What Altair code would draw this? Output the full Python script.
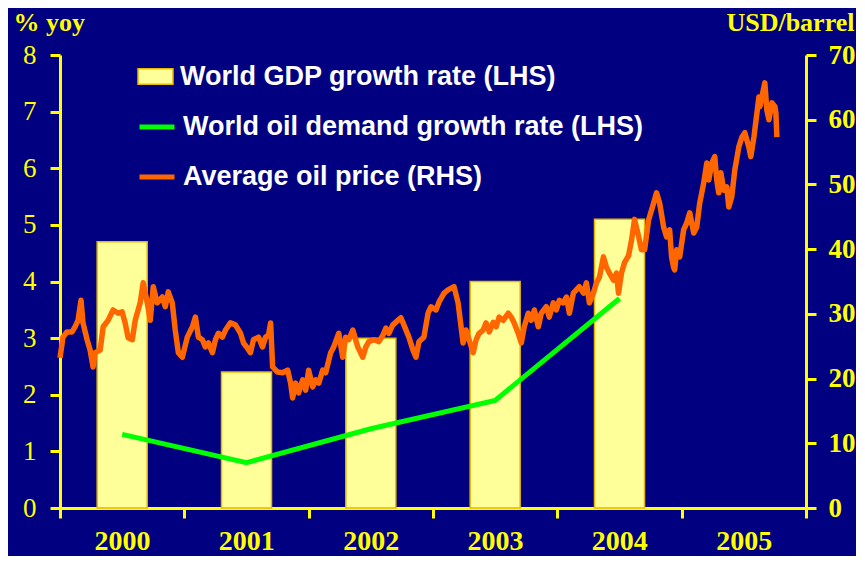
import altair as alt
import pandas as pd

# ---------------- data ----------------
years = [2000, 2001, 2002, 2003, 2004]
gdp_growth = [4.7, 2.4, 3.0, 4.0, 5.1]
oil_demand_growth = [1.3, 0.8, 1.4, 1.9, 3.7]

year_ticks = [2000, 2001, 2002, 2003, 2004, 2005, 2006]
left_ticks = [0, 1, 2, 3, 4, 5, 6, 7, 8]
right_ticks = [0, 10, 20, 30, 40, 50, 60, 70]

# oil price: time as decimal years, price in USD/barrel
oil_t = [
    2000.000, 2000.024, 2000.056, 2000.097, 2000.121, 2000.145, 2000.169, 2000.185,
    2000.218, 2000.242, 2000.266, 2000.282, 2000.323, 2000.347, 2000.387, 2000.427,
    2000.468, 2000.500, 2000.524, 2000.548, 2000.581, 2000.605, 2000.645, 2000.669,
    2000.702, 2000.726, 2000.750, 2000.782, 2000.823, 2000.847, 2000.871, 2000.903,
    2000.927, 2000.952, 2000.984, 2001.024, 2001.065, 2001.089, 2001.113, 2001.145,
    2001.169, 2001.194, 2001.226, 2001.250, 2001.274, 2001.306, 2001.331, 2001.371,
    2001.411, 2001.452, 2001.476, 2001.508, 2001.532, 2001.556, 2001.597, 2001.629,
    2001.653, 2001.677, 2001.694, 2001.710, 2001.750, 2001.790, 2001.831, 2001.855,
    2001.871, 2001.895, 2001.919, 2001.952, 2001.976, 2002.000, 2002.032, 2002.056,
    2002.081, 2002.113, 2002.137, 2002.177, 2002.202, 2002.242, 2002.274, 2002.298,
    2002.323, 2002.355, 2002.395, 2002.435, 2002.460, 2002.484, 2002.524, 2002.565,
    2002.597, 2002.621, 2002.645, 2002.677, 2002.718, 2002.742, 2002.766, 2002.806,
    2002.839, 2002.863, 2002.887, 2002.927, 2002.960, 2002.984, 2003.024, 2003.048,
    2003.089, 2003.121, 2003.169, 2003.202, 2003.226, 2003.242, 2003.266, 2003.290,
    2003.323, 2003.347, 2003.371, 2003.403, 2003.427, 2003.452, 2003.484, 2003.508,
    2003.532, 2003.565, 2003.605, 2003.629, 2003.653, 2003.685, 2003.710, 2003.734,
    2003.766, 2003.790, 2003.815, 2003.847, 2003.871, 2003.911, 2003.935, 2003.968,
    2003.992, 2004.016, 2004.048, 2004.073, 2004.097, 2004.129, 2004.153, 2004.177,
    2004.210, 2004.234, 2004.258, 2004.290, 2004.315, 2004.339, 2004.371, 2004.395,
    2004.419, 2004.452, 2004.476, 2004.492, 2004.516, 2004.540, 2004.573, 2004.597,
    2004.621, 2004.653, 2004.677, 2004.702, 2004.734, 2004.774, 2004.798, 2004.823,
    2004.855, 2004.879, 2004.903, 2004.919, 2004.935, 2004.944, 2004.960, 2004.984,
    2005.016, 2005.040, 2005.065, 2005.097, 2005.121, 2005.145, 2005.177, 2005.202,
    2005.218, 2005.242, 2005.266, 2005.282, 2005.298, 2005.315, 2005.339, 2005.363,
    2005.379, 2005.403, 2005.427, 2005.460, 2005.484, 2005.508, 2005.540, 2005.556,
    2005.581, 2005.605, 2005.621, 2005.629, 2005.645, 2005.669, 2005.685, 2005.702,
    2005.726, 2005.750, 2005.758, 2005.766,
]
oil_price = [
    23.2, 26.4, 27.2, 27.2, 28.0, 29.0, 32.1, 28.6,
    26.0, 24.4, 21.8, 24.0, 24.4, 28.0, 29.0, 30.6,
    30.1, 30.3, 28.6, 26.3, 26.0, 29.0, 31.7, 34.8,
    31.7, 29.0, 34.2, 31.7, 32.6, 31.1, 33.4, 31.7,
    27.5, 24.0, 23.3, 26.4, 28.0, 29.5, 26.4, 26.0,
    24.9, 25.5, 24.0, 26.0, 27.0, 26.4, 27.5, 28.6,
    28.3, 27.0, 25.5, 24.7, 24.0, 26.0, 26.4, 24.9,
    26.4, 26.7, 28.6, 21.8, 21.0, 20.9, 21.3, 19.3,
    17.0, 19.3, 17.8, 19.8, 18.2, 21.3, 18.7, 19.8,
    19.3, 21.3, 20.9, 24.0, 24.9, 27.0, 23.3, 26.4,
    26.0, 27.5, 24.9, 23.3, 24.9, 25.7, 26.0, 25.7,
    26.7, 27.8, 27.0, 28.3, 29.0, 29.4, 28.3, 26.4,
    24.4, 23.3, 25.7, 26.4, 30.1, 31.1, 30.6, 31.8,
    33.2, 33.7, 34.2, 31.7, 28.0, 25.5, 27.5, 26.0,
    24.0, 26.0, 27.0, 27.5, 28.6, 27.2, 28.7, 28.0,
    29.5, 29.0, 30.1, 29.5, 28.6, 27.0, 25.5, 28.0,
    30.1, 29.0, 30.6, 28.0, 30.1, 31.1, 29.5, 31.7,
    30.6, 32.1, 31.7, 32.6, 30.1, 33.2, 33.7, 34.2,
    33.2, 34.8, 31.7, 33.2, 34.8, 35.7, 38.8, 37.2,
    36.3, 35.2, 36.3, 33.2, 36.3, 37.9, 39.0, 41.4,
    44.6, 42.0, 39.9, 39.9, 44.5, 47.1, 48.7, 47.1,
    43.4, 41.9, 43.0, 38.8, 37.2, 36.8, 39.9, 38.8,
    43.0, 44.0, 45.6, 42.5, 43.4, 47.1, 50.2, 53.3,
    50.7, 53.3, 54.3, 50.7, 48.7, 51.8, 49.1, 49.6,
    46.5, 48.1, 52.2, 55.8, 57.3, 58.0, 55.8, 54.3,
    57.3, 61.0, 63.5, 62.0, 63.5, 65.7, 61.5, 60.0,
    62.6, 62.0, 61.0, 57.3,
]

S_GDP = "World GDP growth rate (LHS)"
S_DEM = "World oil demand growth rate (LHS)"
S_OIL = "Average oil price (RHS)"

# ---------------- styling ----------------
NAVY = "#000080"
YELLOW = "#FFFF00"
BAR_FILL = "#FFFF99"
BAR_EDGE = "#E6B800"
GREEN = "#00FF00"
ORANGE = "#FF6600"
SERIF = "Liberation Serif"
SANS = "Liberation Sans"

bars_df = pd.DataFrame({
    "year": years,
    "gdp": gdp_growth,
    "demand": oil_demand_growth,
    "s_gdp": [S_GDP] * len(years),
    "s_dem": [S_DEM] * len(years),
})
oil_df = pd.DataFrame({"t": oil_t, "price": oil_price, "s": [S_OIL] * len(oil_t)})

xscale = alt.Scale(domain=[2000, 2006], nice=False, zero=False, padding=0)
yleft_scale = alt.Scale(domain=[0, 8], nice=False, padding=0)
yright_scale = alt.Scale(domain=[0, 70], nice=False, padding=0)

x_axis = alt.Axis(
    values=year_ticks,
    labelExpr="datum.value < 2006 ? format(datum.value, 'd') : ''",
    labelOffset=62, labelFlush=False, labelOverlap=False, labelBound=False,
    tickSize=10, tickWidth=3, tickColor=YELLOW,
    domainColor=YELLOW, domainWidth=3,
    labelColor=YELLOW, labelFont=SERIF, labelFontSize=28, labelFontWeight="bold",
    labelPadding=9, grid=False, title=None,
)

y_left = alt.Axis(
    values=left_ticks, orient="left",
    labelFlush=False, labelOverlap=False, labelBound=False,
    tickSize=10, tickWidth=3, tickColor=YELLOW,
    domainColor=YELLOW, domainWidth=3,
    labelColor=YELLOW, labelFont=SERIF, labelFontSize=27, labelPadding=14,
    grid=False,
    title="% yoy", titleAngle=0, titleX=-47, titleY=-25,
    titleAlign="left", titleBaseline="alphabetic",
    titleColor=YELLOW, titleFont=SERIF, titleFontSize=26, titleFontWeight="bold",
)

y_right = alt.Axis(
    values=right_ticks, orient="right",
    labelFlush=False, labelOverlap=False, labelBound=False,
    tickSize=10, tickWidth=3, tickColor=YELLOW,
    domainColor=YELLOW, domainWidth=3,
    labelColor=YELLOW, labelFont=SERIF, labelFontSize=27, labelFontWeight="bold",
    labelPadding=12, grid=False,
    title="USD/barrel", titleAngle=0, titleX=48, titleY=-25,
    titleAlign="right", titleBaseline="alphabetic",
    titleColor=YELLOW, titleFont=SERIF, titleFontSize=26, titleFontWeight="bold",
)


def legend(ypos, stype, **kw):
    return alt.Legend(
        orient="none", legendX=77, legendY=ypos, title=None, padding=0,
        labelColor="white", labelFont=SANS, labelFontSize=27, labelFontWeight="bold",
        labelLimit=700, labelOffset=6, symbolType=stype, symbolSize=1225, **kw,
    )


bars = alt.Chart(bars_df).transform_calculate(xc="datum.year + 0.5").mark_bar(
    size=50, stroke=BAR_EDGE, strokeWidth=1.5, opacity=1
).encode(
    x=alt.X("xc:Q", scale=xscale, axis=x_axis),
    y=alt.Y("gdp:Q", scale=yleft_scale, axis=y_left),
    fill=alt.Fill("s_gdp:N", scale=alt.Scale(range=[BAR_FILL]),
                  legend=legend(3, "M-1,-0.44H1V0.44H-1Z",
                                symbolStrokeColor=BAR_EDGE, symbolStrokeWidth=1.5,
                                symbolOpacity=1)),
)

green = alt.Chart(bars_df).transform_calculate(xc="datum.year + 0.5").mark_line(
    strokeWidth=5
).encode(
    x=alt.X("xc:Q", scale=xscale, axis=x_axis),
    y=alt.Y("demand:Q", scale=yleft_scale, axis=y_left),
    stroke=alt.Stroke("s_dem:N", scale=alt.Scale(range=[GREEN]),
                      legend=legend(52, "stroke", symbolStrokeWidth=5)),
)

oil = alt.Chart(oil_df).mark_line(strokeWidth=5.5, strokeJoin="round").encode(
    x=alt.X("t:Q", scale=xscale, axis=x_axis),
    y=alt.Y("price:Q", scale=yright_scale, axis=y_right),
    color=alt.Color("s:N", scale=alt.Scale(range=[ORANGE]),
                    legend=legend(102, "stroke", symbolStrokeWidth=5)),
)

chart = alt.layer(alt.layer(bars, green), oil).resolve_scale(
    y="independent"
).properties(
    width=746, height=453,
    padding={"left": 52, "top": 47, "right": 50, "bottom": 48},
    autosize=alt.AutoSizeParams(type="none"),
).configure(background=NAVY).configure_view(strokeWidth=0)

chart.save("out.html", embed_options={"renderer": "svg", "actions": False})
